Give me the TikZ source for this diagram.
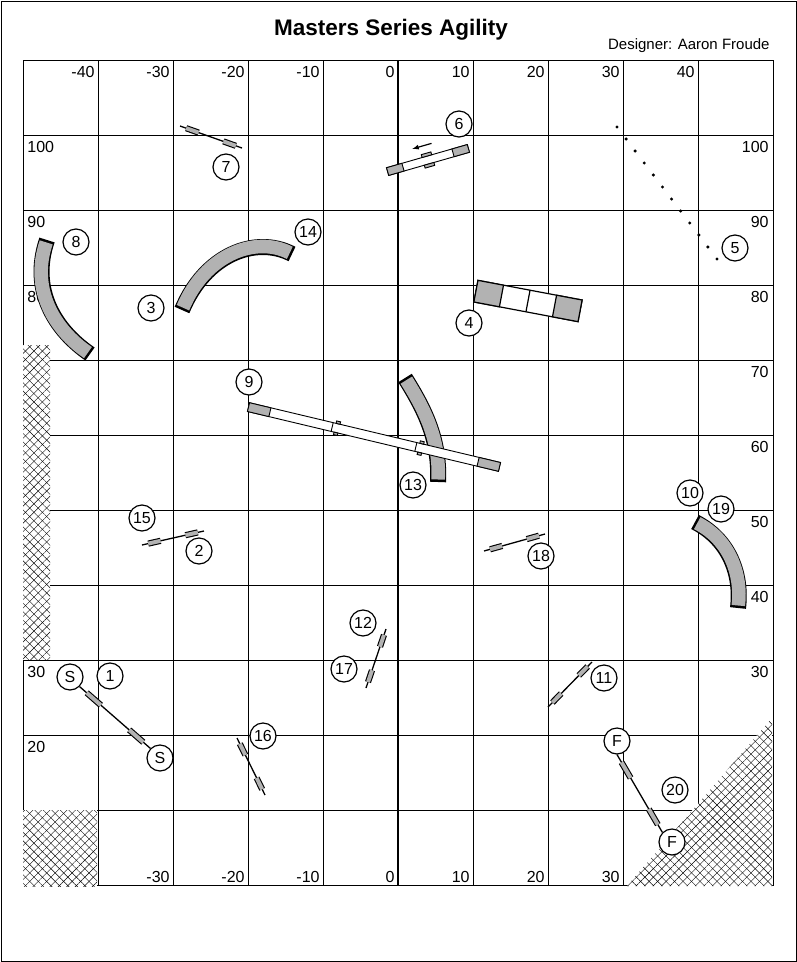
\documentclass[tikz,border=0pt]{standalone}
\usepackage{fontspec}
\setmainfont{Liberation Sans}
\usetikzlibrary{calc,patterns.meta}
\tikzset{
  every picture/.style={line width=0.9pt},
  num/.style={circle,draw,fill=white,line width=1.2pt,minimum size=26pt,inner sep=0pt,font=\fontsize{16}{18}\selectfont},
  lbl/.style={font=\fontsize{16}{18}\selectfont,inner sep=1pt},
  bar/.style={double=gray!60,double distance=4pt,line width=1.1pt},
  hatch/.style={fill=white,postaction={pattern={Lines[angle=45,distance=6pt,line width=0.4pt]}},
    postaction={pattern={Lines[angle=-45,distance=6pt,line width=0.4pt]}}}
}
% jump: pole with two wings
\newcommand{\jumpbar}[2]{%
  \draw[line width=1.3pt] (#1) -- (#2);
  \draw[bar] ($(#1)!0.1!(#2)$) -- ($(#1)!0.3!(#2)$);
  \draw[bar] ($(#1)!0.7!(#2)$) -- ($(#1)!0.9!(#2)$);}
% tunnel: black outline and ends, grey body
\newcommand{\tunnel}[1]{%
  \draw[line width=16pt] #1;
  \draw[line width=13.6pt,gray!60,shorten <=2.5pt,shorten >=2.5pt] #1;}
\begin{document}
\begin{tikzpicture}[x=1pt,y=-1pt]
\useasboundingbox (0,0) rectangle (797,962);
\draw[thick] (1,1) rectangle (796,961);
% title
\node[font=\bfseries\fontsize{22.5}{25}\selectfont] (title) at (391,30) {Masters Series Agility};
\node[lbl,anchor=east,font=\fontsize{15}{17}\selectfont] (designer) at (771,46) {Designer: Aaron Froude};
% grid
\foreach \i in {0,...,10} \draw (23+75*\i,60) -- (23+75*\i,886);
\foreach \j in {0,...,11} \draw (23,60+75*\j) -- (773,60+75*\j);
\draw[line width=1.8pt] (398,60) -- (398,886);
% numbers on the edges
\foreach \v [count=\k from 0] in {-40,-30,-20,-10,0,10,20,30,40}
  \node[lbl,anchor=east] (top\k) at (96+75*\k,72) {\v};
\foreach \v [count=\k from 1] in {-30,-20,-10,0,10,20,30}
  \node[lbl,anchor=east] (bot\k) at (96+75*\k,877) {\v};
\foreach \v [count=\k from 0] in {100,90,80,70,60,50,40,30}
  \node[lbl,anchor=east] (right\k) at (770,147+75*\k) {\v};
\foreach \v [count=\k from 0] in {100,90,80}
  \node[lbl,anchor=west] (left\k) at (26,147+75*\k) {\v};
\node[lbl,anchor=west] (left30) at (26,672) {30};
\node[lbl,anchor=west] (left20) at (26,747) {20};
% out of bounds
\path[hatch] (23,345) rectangle (50,660);
\path[hatch] (23,810) rectangle (97,886);
\path[hatch] (627,886) -- (772,718) -- (772,886) -- cycle;
% tunnels
\tunnel{(182,310) .. controls (205,255) and (255,235) .. (292,254)}
\tunnel{(47,240) .. controls (30,290) and (55,330) .. (90,354)}
\tunnel{(695,522) .. controls (730,540) and (742,575) .. (738,608)}
% weave poles
\foreach \t in {0,...,11} \fill ($(617,127)!\t/11!(717,259)$) circle (1.7pt);
% see-saw
\begin{scope}[shift={(428,160)},rotate=16]
  \draw[fill=white] (-42,-4) rectangle (42,4);
  \draw[fill=gray!60] (-42,-4) rectangle (-26,4);
  \draw[fill=gray!60] (26,-4) rectangle (42,4);
  \draw[fill=gray!60] (-5,-7) rectangle (5,-4) (-5,4) rectangle (5,7);
  \draw[line width=1.2pt,-latex] (8,-15) -- (-12,-15);
\end{scope}
% table box
\begin{scope}[shift={(528,301)},rotate=-10.7]
  \draw[line width=1.2pt,fill=white] (-53,-11) rectangle (53,11);
  \draw[line width=1.2pt,fill=gray!60] (-53,-11) rectangle (-27,11);
  \draw[line width=1.2pt,fill=gray!60] (27,-11) rectangle (53,11);
  \draw[line width=1.2pt] (0,-11) -- (0,11);
\end{scope}
% tunnel under the dog walk
\tunnel{(405,378) .. controls (425,410) and (440,440) .. (438,482)}
% dog walk
\begin{scope}[shift={(374,437)},rotate=-13.4]
  \draw[fill=white] (-129,-4.5) rectangle (129,4.5);
  \draw[fill=gray!60] (-129,-4.5) rectangle (-107,4.5);
  \draw[fill=gray!60] (107,-4.5) rectangle (129,4.5);
  \draw (-43,-4.5) -- (-43,4.5) (43,-4.5) -- (43,4.5);
  \foreach \p in {-38,48} \draw[fill=gray!60] (\p-2,-7) rectangle (\p+2,-4.5) (\p-2,4.5) rectangle (\p+2,7);
\end{scope}
% start and finish
\node[num] (s1) at (70,677) {S};
\node[num] (s2) at (160,758) {S};
\node[num] (f1) at (617,741) {F};
\node[num] (f2) at (672,842) {F};
\jumpbar{s1.south east}{s2.north west}
\jumpbar{f1.south}{f2.north west}
% jumps
\jumpbar{180,126}{242,148}
\jumpbar{142,545}{204,531}
\jumpbar{484,551}{545,534}
\jumpbar{366,688}{386,629}
\jumpbar{548,707}{592,662}
\jumpbar{237,738}{265,795}
% obstacle numbers
\node[num] (n1) at (110,676) {1};
\node[num] (n2) at (199,551) {2};
\node[num] (n3) at (151,308) {3};
\node[num] (n4) at (469,323) {4};
\node[num] (n5) at (735,248) {5};
\node[num] (n6) at (459,124) {6};
\node[num] (n7) at (226,167) {7};
\node[num] (n8) at (76,242) {8};
\node[num] (n9) at (249,382) {9};
\node[num] (n10) at (690,493) {10};
\node[num] (n11) at (604,678) {11};
\node[num] (n12) at (363,623) {12};
\node[num] (n13) at (413,485) {13};
\node[num] (n14) at (308,232) {14};
\node[num] (n15) at (142,518) {15};
\node[num] (n16) at (263,736) {16};
\node[num] (n17) at (344,669) {17};
\node[num] (n18) at (541,556) {18};
\node[num] (n19) at (721,509) {19};
\node[num] (n20) at (675,790) {20};
\end{tikzpicture}
\end{document}
